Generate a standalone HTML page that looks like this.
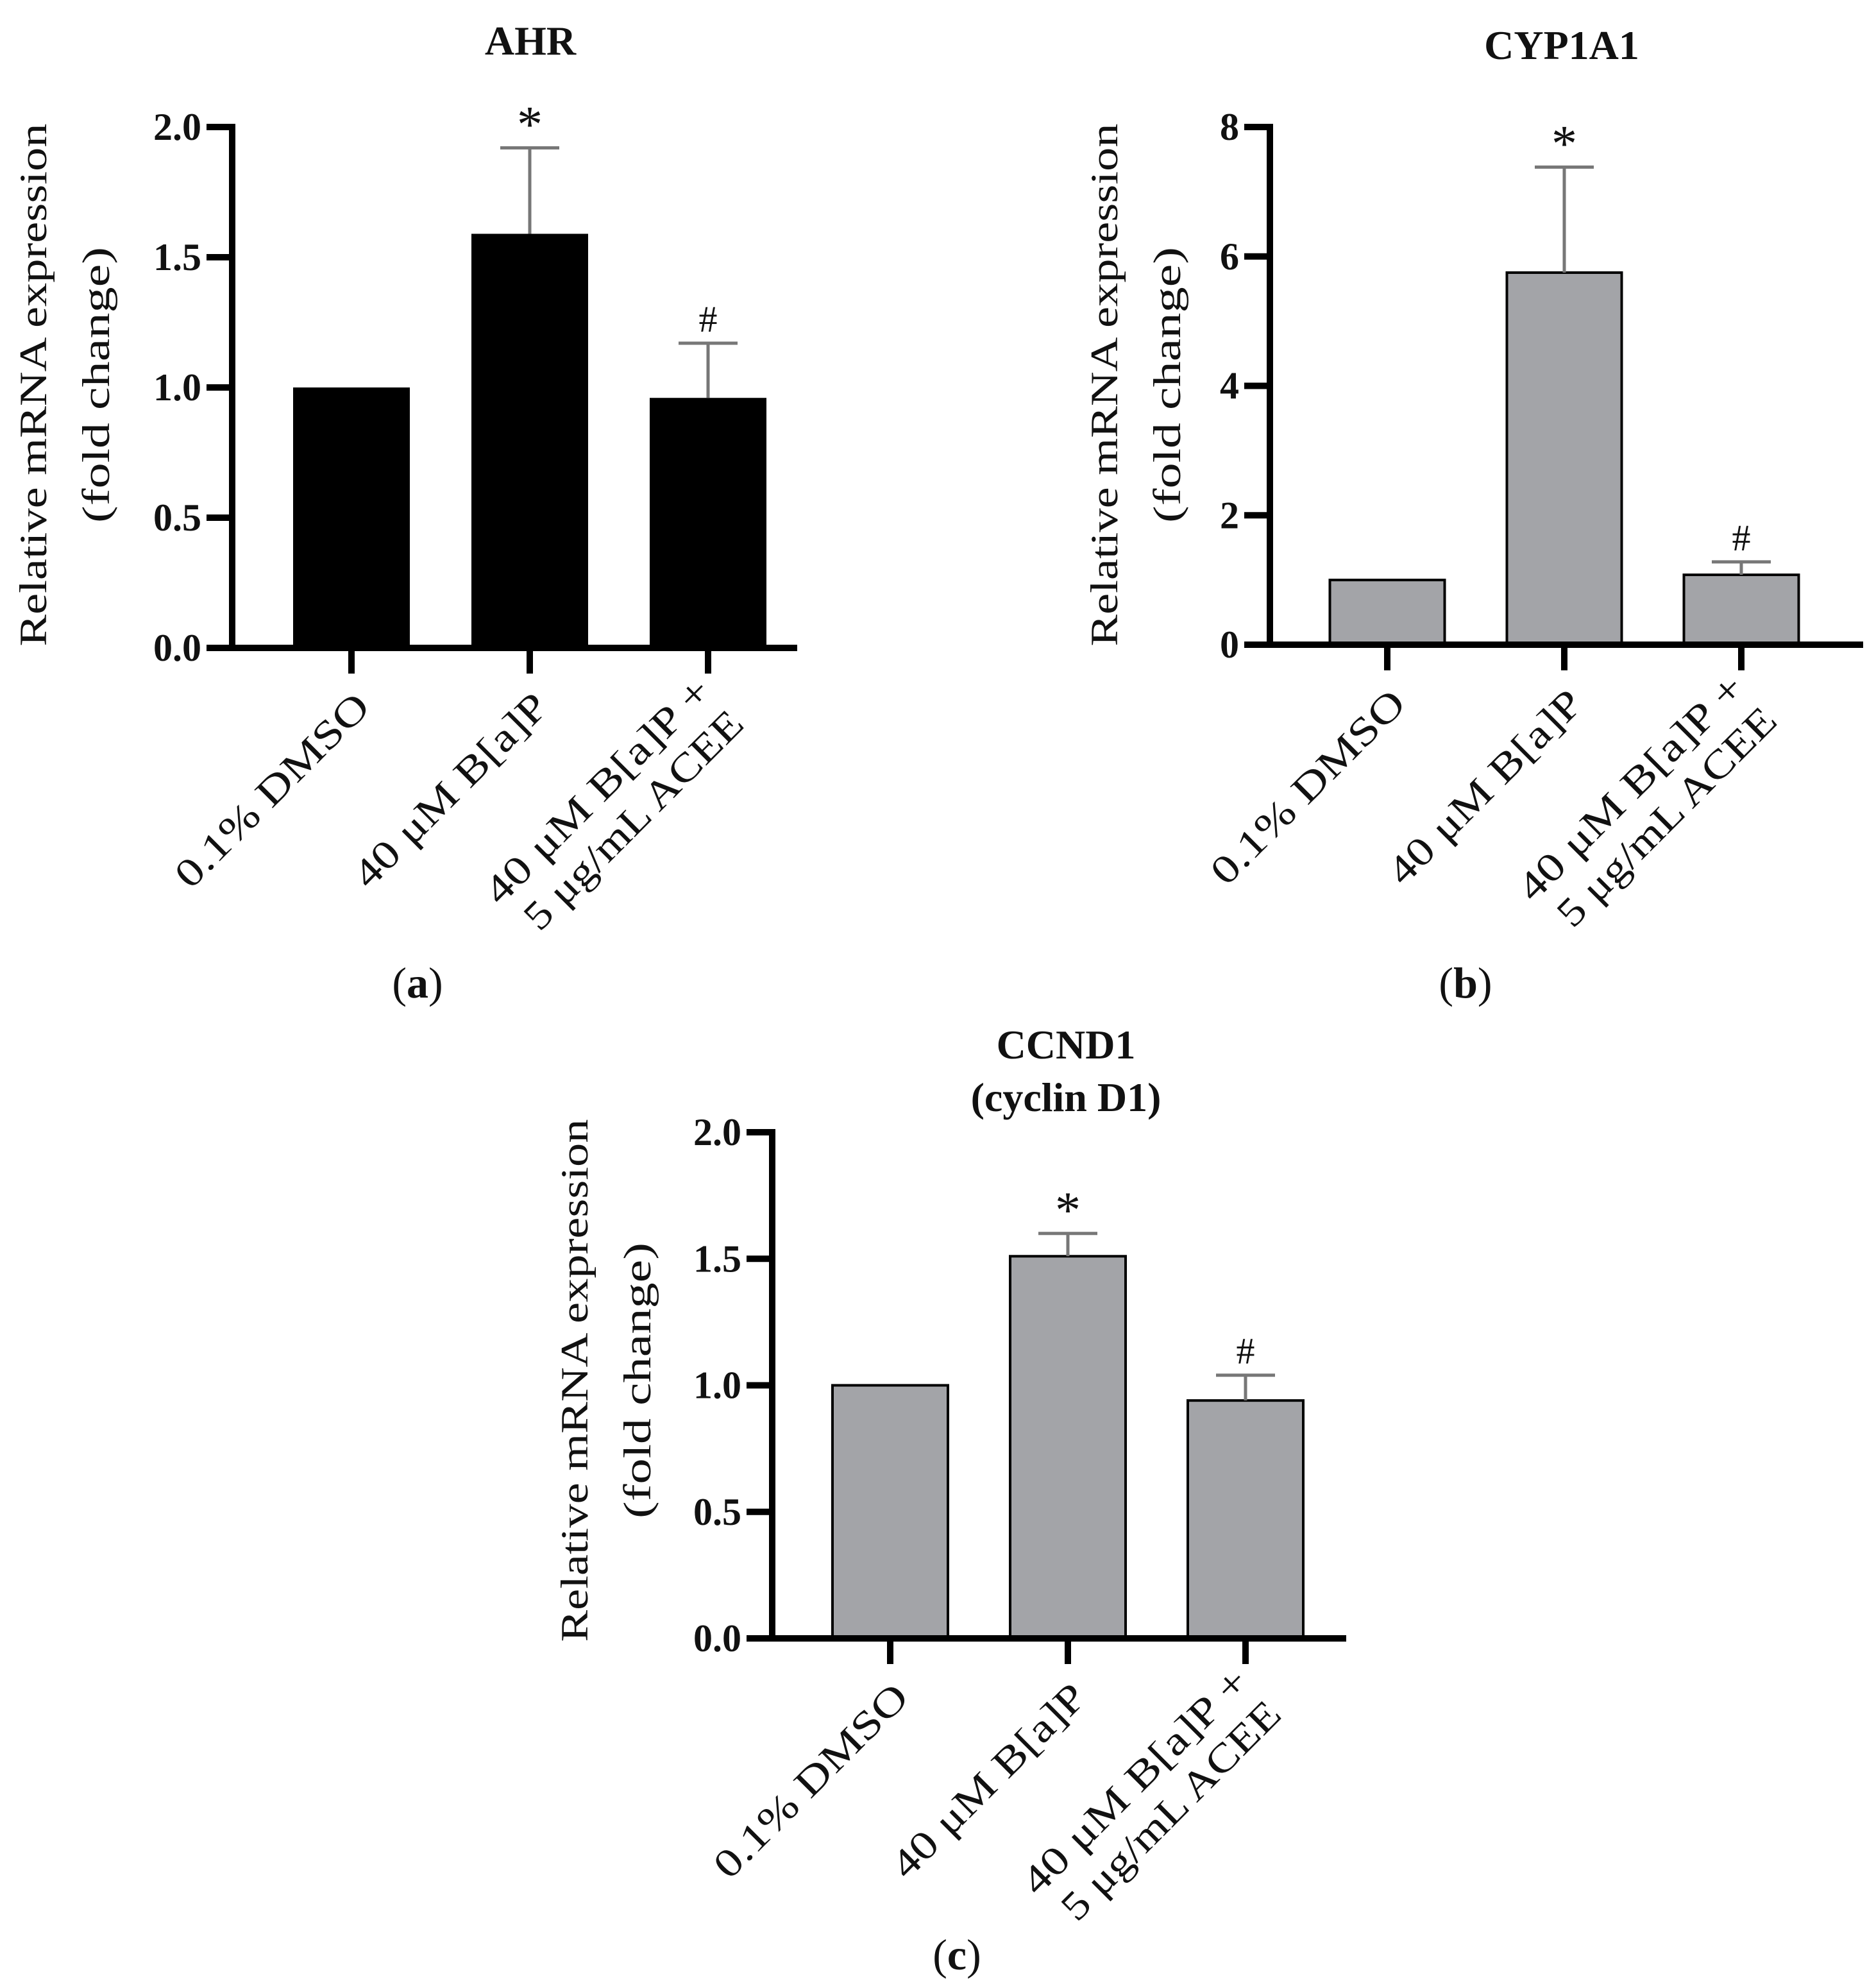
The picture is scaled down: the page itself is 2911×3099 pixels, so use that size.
<!DOCTYPE html>
<html><head><meta charset="utf-8"><style>
html,body{margin:0;padding:0;background:#fff;}
svg{display:block;}
text{font-family:"Liberation Serif",serif;fill:#111;}
</style></head><body>
<svg id="fig" width="2911" height="3099" viewBox="0 0 2911 3099" xmlns="http://www.w3.org/2000/svg"></svg>
<script>
const NS="http://www.w3.org/2000/svg";
const categories=["0.1% DMSO","40 μM B[a]P","40 μM B[a]P +|5 μg/mL ACEE"];
const ahrValues=[1.0,1.59,0.96];
const ahrErrors=[0,0.33,0.21];
const ahrMarks=["","*","#"];
const ahrTicks=["0.0","0.5","1.0","1.5","2.0"];
const cypValues=[1.0,5.75,1.08];
const cypErrors=[0,1.63,0.2];
const cypMarks=["","*","#"];
const cypTicks=["0","2","4","6","8"];
const ccndValues=[1.0,1.51,0.94];
const ccndErrors=[0,0.09,0.1];
const ccndMarks=["","*","#"];
const ccndTicks=["0.0","0.5","1.0","1.5","2.0"];

const svg=document.getElementById('fig');
function mk(tag,attrs,parent,txt){const e=document.createElementNS(NS,tag);for(const k in attrs)e.setAttribute(k,attrs[k]);if(txt!==undefined)e.textContent=txt;(parent||svg).appendChild(e);return e;}
const labelLens=[[400],[400],[470,455]];

function panel(cfg){
  const g=mk('g',{});
  
  
  const ax=cfg.ax, y0=cfg.y0, y1=cfg.y1, maxV=cfg.max;
  const ys=v=>y0-(v/maxV)*(y0-y1);
  const xs=i=>cfg.cx0+i*cfg.step;
  cfg.title.forEach((t,i)=>{
    const tt=mk('text',{x:cfg.titleX,y:cfg.titleY+i*82,'text-anchor':'middle','font-size':64,'font-weight':'bold'},g,t);
    
    
  });
  const yt=mk('text',{transform:`translate(${cfg.ylx},${cfg.yly}) rotate(-90)`,'text-anchor':'middle','font-size':60},g);
  
  
  mk('tspan',{x:0,y:0,textLength:815,lengthAdjust:'spacingAndGlyphs'},yt,'Relative mRNA expression');
  mk('tspan',{x:0,y:98,textLength:430,lengthAdjust:'spacingAndGlyphs'},yt,'(fold change)');
  cfg.values.forEach((v,i)=>{
    const cx=xs(i), w=cfg.bw;
    const b=mk('rect',{x:cx-w/2,y:ys(v),width:w,height:y0-ys(v),fill:cfg.fill,stroke:'#000','stroke-width':cfg.fill==='#000'?0:4},g);
    
    
    const e=cfg.errors[i];
    if(e>0){
      const top=ys(v+e);
      const el=mk('path',{d:`M${cx} ${ys(v)}V${top}M${cx-46} ${top}H${cx+46}`,stroke:'#777','stroke-width':5,fill:'none'},g);
      
      
    }
    if(cfg.marks[i]){
      const m=mk('text',{x:cx,y:ys(v+e)-(cfg.marks[i]==='*'?10:18),'text-anchor':'middle','font-size':cfg.marks[i]==='*'?80:58},g,cfg.marks[i]);
      
      
    }
    const tk=mk('line',{x1:cx,y1:y0,x2:cx,y2:y0+40,stroke:'#000','stroke-width':10},g);
    
    
    const parts=categories[i].split('|');
    const lg=mk('g',{transform:`translate(${cx+32},${y0+95}) rotate(-45)`},g);
    
    
    parts.forEach((p,j)=>{
      const off=parts.length>1?(j===0?-34:38):0;
      mk('text',{x:0,y:off,'text-anchor':'end','font-size':62,textLength:labelLens[i][j],lengthAdjust:'spacingAndGlyphs'},lg,p);
    });
  });
  cfg.ticks.forEach((t,i)=>{
    const v=i*maxV/(cfg.ticks.length-1);
    const yy=ys(v);
    const tl=mk('line',{x1:ax-40,y1:yy,x2:ax,y2:yy,stroke:'#000','stroke-width':10},g);
    
    
    const tx=mk('text',{x:ax-48,y:yy+20,'text-anchor':'end','font-size':60,'font-weight':'bold'},g,t);
    
    
  });
  const axl=mk('path',{d:`M${ax} ${y1-5}V${y0}H${cfg.xEnd}`,stroke:'#000','stroke-width':10,fill:'none'},g);
  
  
  const pl=mk('text',{x:cfg.plx,y:cfg.ply,'text-anchor':'middle','font-size':68},g);
  
  
  mk('tspan',{},pl,'(');
  mk('tspan',{'font-weight':'bold'},pl,cfg.letter);
  mk('tspan',{},pl,')');
}

panel({name:'panel-a-ahr',title:['AHR'],titleX:827,titleY:85,ax:362,y0:1010,y1:198,max:2,cx0:548,step:278,bw:182,fill:'#000',
  values:ahrValues,errors:ahrErrors,marks:ahrMarks,ticks:ahrTicks,ylx:72,yly:600,xEnd:1243,plx:651,ply:1555,letter:'a'});
panel({name:'panel-b-cyp1a1',title:['CYP1A1'],titleX:2435,titleY:92,ax:1980,y0:1005,y1:198,max:8,cx0:2163,step:276,bw:179,fill:'#a3a4a8',
  values:cypValues,errors:cypErrors,marks:cypMarks,ticks:cypTicks,ylx:1742,yly:600,xEnd:2905,plx:2285,ply:1555,letter:'b'});
panel({name:'panel-c-ccnd1',title:['CCND1','(cyclin D1)'],titleX:1662,titleY:1650,ax:1204,y0:2554,y1:1765,max:2,cx0:1388,step:277,bw:180,fill:'#a3a4a8',
  values:ccndValues,errors:ccndErrors,marks:ccndMarks,ticks:ccndTicks,ylx:916,yly:2152,xEnd:2099,plx:1492,ply:3070,letter:'c'});
</script>
</body></html>
